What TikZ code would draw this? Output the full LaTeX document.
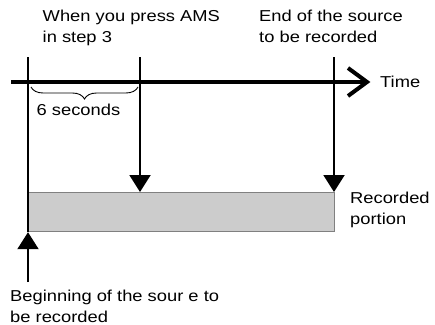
\documentclass[tikz,border=0pt]{standalone}
\usepackage{fontspec}
\setmainfont{Liberation Sans}[FakeStretch=1.16]
\usetikzlibrary{decorations.pathreplacing,arrows.meta}
\begin{document}
\begin{tikzpicture}[x=1pt,y=-1pt,
  lbl/.style={anchor=base west, inner sep=0pt, font=\fontsize{15.8}{21}\selectfont, align=left},
  vline/.style={line width=2pt},
  downarrow/.style={line width=2pt, -{Triangle[length=17pt,width=21pt]}},
  timeline/.style={line width=3.5pt},
  recbox/.style={draw=gray, line width=1.2pt, fill=gray!40, minimum width=306pt, minimum height=39pt, inner sep=0pt, anchor=north west},
  bracestyle/.style={line width=0.9pt, decorate, decoration={brace, mirror, amplitude=12pt}}]
\useasboundingbox (0,0) rectangle (435,324);
% labels (base anchor = baseline of last line)
\node[lbl] (lamS) at (42.5,42) {When you press AMS\\in step 3};
\node[lbl] (lend) at (259,42) {End of the source\\to be recorded};
\node[lbl] (ltime) at (380,87) {Time};
\node[lbl] (lrec) at (350,224) {Recorded\\portion};
\node[lbl] (lbeg) at (10,322) {Beginning of the sour e to\\be recorded};
\node[lbl] (l6s) at (36.5,115) {6 seconds};
% recorded portion
\node[recbox] (rec) at (28,192) {};
% coordinates
\coordinate (t1) at (28,57);
\coordinate (t2) at (140,57);
\coordinate (t3) at (334,57);
\coordinate (tl0) at (11,82);
\coordinate (tl1) at (367,82);
\coordinate (b0) at (28,282);
\coordinate (bs) at (31,87);
\coordinate (be) at (138,87);
% lines
\draw[vline] (t1) -- (rec.south west);
\draw[downarrow] (t2) -- (t2 |- rec.north);
\draw[downarrow] (t3) -- (t3 |- rec.north);
\draw[downarrow] (b0) -- (rec.south west);
\draw[timeline] (tl0) -- (tl1);
\draw[line width=4pt, miter limit=10] (tl1) ++(-19,-14) -- (tl1) -- ++(-19,14);
\draw[bracestyle] (bs) -- (be);
\end{tikzpicture}
\end{document}
